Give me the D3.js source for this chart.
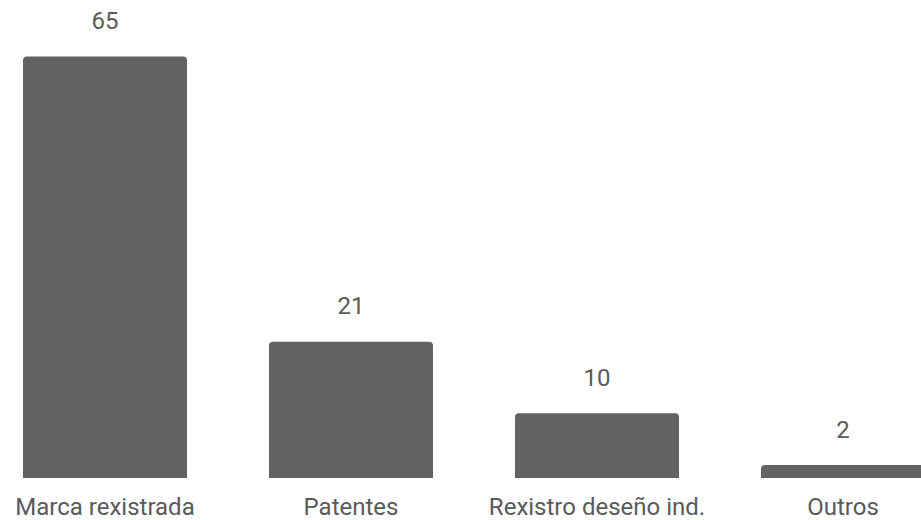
<!DOCTYPE html>
<html><head><meta charset="utf-8">
<script src="https://cdn.jsdelivr.net/npm/d3@7"></script>
<style>body{margin:0;background:#fff}svg{display:block}</style>
</head><body>
<script>
const categories = ["Marca rexistrada", "Patentes", "Rexistro deseño ind.", "Outros"];
const values = [65, 21, 10, 2];

const W = 921, H = 520;
const svg = d3.select("body").append("svg").attr("width", W).attr("height", H);
const x = d3.scaleBand().domain(categories).range([-18, 966]).paddingInner(1/3).paddingOuter(1/6);
const y = d3.scaleLinear().domain([0, 65]).range([478, 56.5]);
const r = 4;
function barPath(x0, w, yt, yb) {
  const rr = Math.min(r, (yb - yt));
  return `M${x0},${yb}V${yt + rr}Q${x0},${yt} ${x0 + rr},${yt}H${x0 + w - rr}Q${x0 + w},${yt} ${x0 + w},${yt + rr}V${yb}Z`;
}
const data = categories.map((c, i) => ({c, v: values[i]}));
svg.selectAll("path.bar").data(data).join("path").attr("class", "bar")
  .attr("d", d => barPath(x(d.c), x.bandwidth(), y(d.v), y(0)))
  .attr("fill", "#636363");
svg.selectAll("text.val").data(data).join("text").attr("class", "val")
  .attr("x", d => x(d.c) + x.bandwidth() / 2).attr("y", d => y(d.v) - 27.5)
  .attr("text-anchor", "middle").attr("font-family", "Roboto").attr("font-size", 24)
  .attr("fill", "#5a5a5a").text(d => d.v);
svg.selectAll("text.cat").data(data).join("text").attr("class", "cat")
  .attr("x", d => x(d.c) + x.bandwidth() / 2).attr("y", 515)
  .attr("text-anchor", "middle").attr("font-family", "Roboto").attr("font-size", 24)
  .attr("fill", "#5a5a5a").text(d => d.c);
</script>
</body></html>
